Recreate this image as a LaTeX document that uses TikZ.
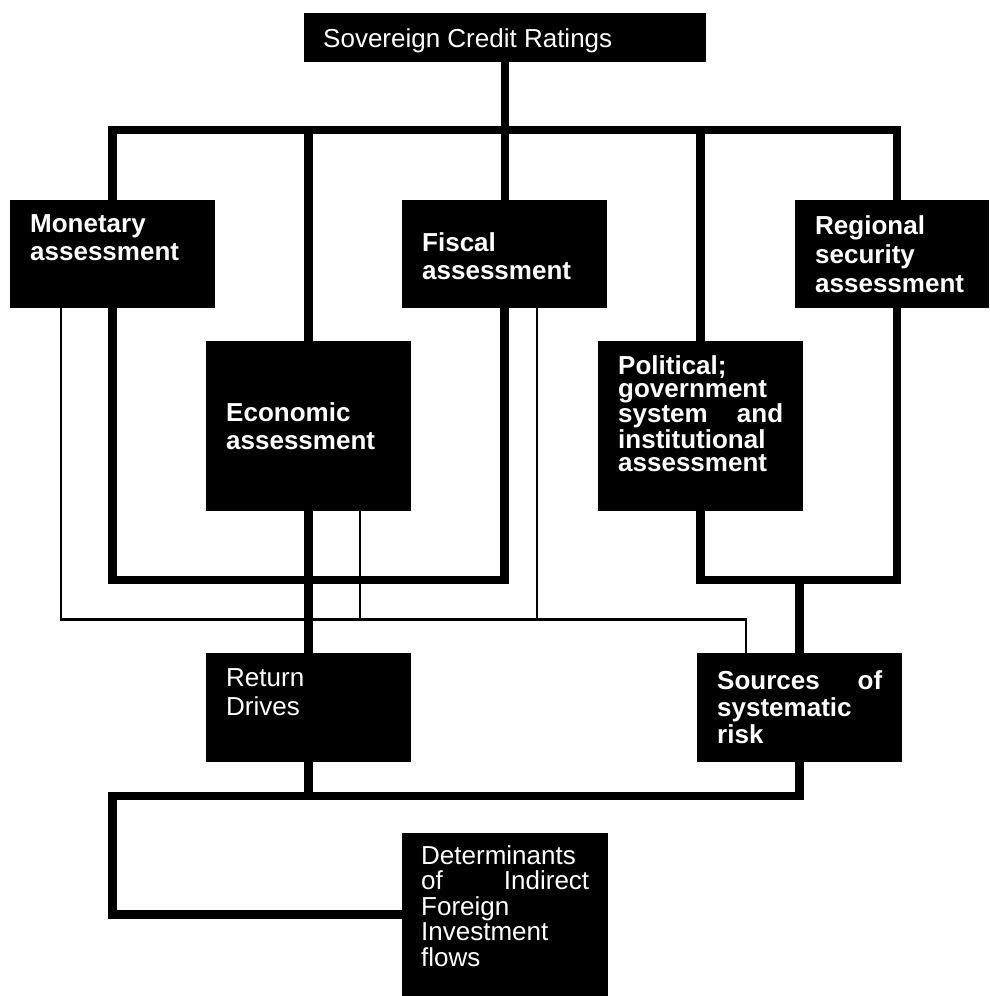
\documentclass[tikz,border=0pt]{standalone}
\usepackage{fontspec}
\setmainfont{Liberation Sans}
\usetikzlibrary{calc}
\tikzset{
  blk/.style={fill=black, draw=none, inner sep=0pt, anchor=north west},
  lbl/.style={text=white, inner sep=0pt, anchor=north west, align=left},
  bfnt/.style={font=\bfseries\fontsize{26}{#1}\selectfont},
  rfnt/.style={font=\fontsize{26}{#1}\selectfont},
  heavy/.style={line width=8.5pt, line join=miter, line cap=butt},
  light/.style={line width=2.6pt, line join=miter, line cap=butt},
}
\begin{document}
\begin{tikzpicture}[x=1pt,y=-1pt]
\useasboundingbox (0,0) rectangle (989,996);
% boxes
\node[blk, minimum width=402pt, minimum height=49pt]  (top) at (304,13)  {};
\node[blk, minimum width=205pt, minimum height=108pt] (mon) at (10,200)  {};
\node[blk, minimum width=205pt, minimum height=108pt] (fis) at (402,200) {};
\node[blk, minimum width=194pt, minimum height=108pt] (reg) at (795,200) {};
\node[blk, minimum width=205pt, minimum height=170pt] (eco) at (206,341) {};
\node[blk, minimum width=205pt, minimum height=170pt] (pol) at (598,341) {};
\node[blk, minimum width=205pt, minimum height=109pt] (ret) at (206,653) {};
\node[blk, minimum width=205pt, minimum height=109pt] (src) at (697,653) {};
\node[blk, minimum width=206pt, minimum height=163pt] (det) at (402,833) {};
% texts
\node[lbl, rfnt=28] (topT) at ([shift={(19,15)}]top.north west) {Sovereign Credit Ratings};
\node[lbl, bfnt=28, text width=165pt] (monT) at ([shift={(20,14)}]mon.north west) {Monetary\\assessment};
\node[lbl, bfnt=28, text width=165pt] (fisT) at ([shift={(20,32)}]fis.north west) {Fiscal\\assessment};
\node[lbl, bfnt=29, text width=154pt] (regT) at ([shift={(20,15)}]reg.north west) {Regional\\security\\assessment};
\node[lbl, bfnt=28, text width=165pt] (ecoT) at ([shift={(20,61)}]eco.north west) {Economic\\assessment};
\node[lbl, bfnt=23.5, text width=165pt] (polT) at ([shift={(20,14)}]pol.north west) {Political;\\government\\system\hfill and\\institutional\\assessment};
\node[lbl, rfnt=29, text width=165pt] (retT) at ([shift={(20,15)}]ret.north west) {Return\\Drives};
\node[lbl, bfnt=27, text width=165pt] (srcT) at ([shift={(20,17)}]src.north west) {Sources\hfill of\\systematic\\risk};
\node[lbl, rfnt=25.5, text width=168pt] (detT) at ([shift={(19,12)}]det.north west) {Determinants\\of\hfill Indirect\\Foreign\\Investment\\flows};
% helper coordinates
\coordinate (barY) at (0,130);
\coordinate (loopY) at (0,580);
\coordinate (thinY) at (0,619.5);
\coordinate (botY) at (0,796);
\coordinate (regA) at ($(reg.north west)+(102,0)$);
\coordinate (regB) at ($(reg.south west)+(102,0)$);
\coordinate (monL) at ($(mon.south west)+(51,0)$);
\coordinate (ecoL) at ($(eco.south west)+(154,0)$);
\coordinate (fisL) at ($(fis.south west)+(135,0)$);
\coordinate (srcL) at ($(src.north west)+(49,0)$);
% heavy connectors
\draw[heavy] (top.south) -- (top.south |- fis.north);
\draw[heavy] (mon.north) -- (mon.north |- barY) -- (regA |- barY) -- (regA);
\draw[heavy] (eco.north) -- (eco.north |- barY);
\draw[heavy] (pol.north) -- (pol.north |- barY);
\draw[heavy] (mon.south) -- (mon.south |- loopY) -- (fis.south |- loopY) -- (fis.south);
\draw[heavy] (eco.south) -- (ret.north);
\draw[heavy] (pol.south) -- (pol.south |- loopY) -- (regB |- loopY) -- (regB);
\draw[heavy] (src.north |- loopY) -- (src.north);
\draw[heavy] (ret.south) -- (ret.south |- botY);
\draw[heavy] (src.south) -- (src.south |- botY) -- (mon.south |- botY) -- (mon.south |- det.west) -- (det.west);
% light connectors
\draw[light] (monL) -- (monL |- thinY) -- (srcL |- thinY) -- (srcL);
\draw[light] (ecoL) -- (ecoL |- thinY);
\draw[light] (fisL) -- (fisL |- thinY);
\end{tikzpicture}
\end{document}
